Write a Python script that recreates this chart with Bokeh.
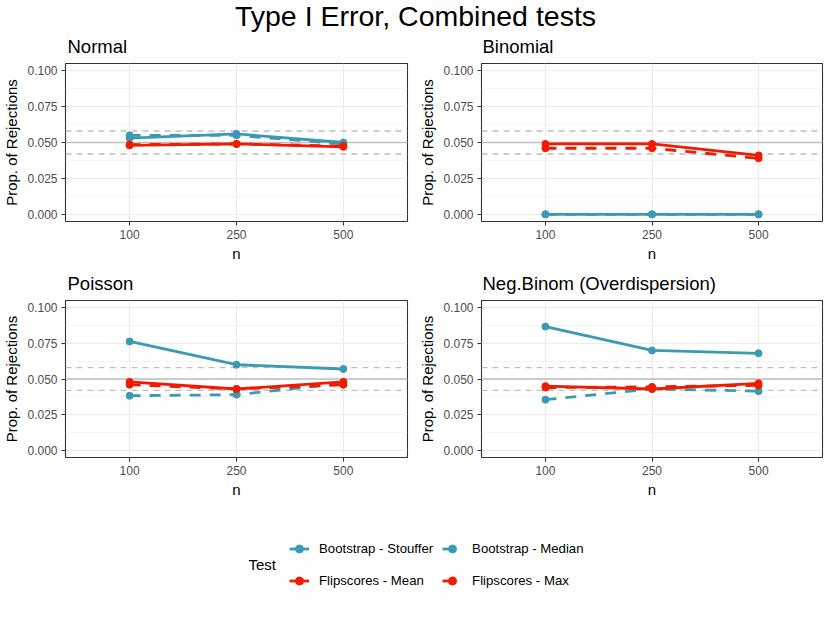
from bokeh.plotting import figure
from bokeh.layouts import column, row
from bokeh.models import (Range1d, FixedTicker, Span, Legend, LegendItem, Label,
                          ColumnDataSource, PrintfTickFormatter)
from bokeh.embed import file_html
from bokeh.resources import INLINE

# ---------------- data ----------------
n_labels = ["100", "250", "500"]
tests = ["Bootstrap - Stouffer", "Bootstrap - Median", "Flipscores - Mean", "Flipscores - Max"]
panel_titles = ["Normal", "Binomial", "Poisson", "Neg.Binom (Overdispersion)"]

normal_stouffer = [0.053, 0.056, 0.050]
normal_median = [0.055, 0.055, 0.049]
normal_mean = [0.048, 0.049, 0.047]
normal_max = [0.0485, 0.049, 0.0475]

binomial_stouffer = [0.0, 0.0, 0.0]
binomial_median = [0.0, 0.0, 0.0]
binomial_mean = [0.049, 0.049, 0.041]
binomial_max = [0.046, 0.046, 0.039]

poisson_stouffer = [0.0763, 0.060, 0.057]
poisson_median = [0.0383, 0.039, 0.047]
poisson_mean = [0.048, 0.043, 0.048]
poisson_max = [0.046, 0.043, 0.046]

negbin_stouffer = [0.0867, 0.070, 0.068]
negbin_median = [0.0355, 0.043, 0.0415]
negbin_mean = [0.045, 0.043, 0.047]
negbin_max = [0.044, 0.0445, 0.0455]

y_ticks = [0.0, 0.025, 0.05, 0.075, 0.1]
y_minor = [0.0125, 0.0375, 0.0625, 0.0875]
ref_solid = 0.05
ref_dashed = [0.042, 0.058]

# ---------------- styles ----------------
BLUE = "#3B9AB2"
RED = "#F21A00"
test_colors = [BLUE, BLUE, RED, RED]
test_dash = ["solid", "11 9", "solid", "11 9"]
FONT = "Liberation Sans"

panel_data = [
    [normal_stouffer, normal_median, normal_mean, normal_max],
    [binomial_stouffer, binomial_median, binomial_mean, binomial_max],
    [poisson_stouffer, poisson_median, poisson_mean, poisson_max],
    [negbin_stouffer, negbin_median, negbin_mean, negbin_max],
]

x_pos = list(range(1, len(n_labels) + 1))


def blank(width, height):
    b = figure(width=width, height=height, output_backend="svg", toolbar_location=None,
               x_axis_type=None, y_axis_type=None, min_border=0,
               x_range=Range1d(100, 101), y_range=Range1d(100, 101))
    b.title = None
    b.outline_line_color = None
    b.grid.visible = False
    return b


def title_strip(text, width, height, x, y):
    s = blank(width, height)
    s.add_layout(Label(x=x, y=y, x_units="screen", y_units="screen", text=text,
                       text_align="left", text_baseline="middle", text_font=FONT,
                       text_font_size="18.5px", text_color="black"))
    return s


def make_panel(series, width, height, mbl, mbr, mbt, mbb):
    p = figure(width=width, height=height, output_backend="svg", toolbar_location=None,
               x_range=Range1d(0.4, len(n_labels) + 0.6), y_range=Range1d(-0.005, 0.105),
               min_border_left=mbl, min_border_right=mbr, min_border_top=mbt,
               min_border_bottom=mbb, background_fill_color="white",
               border_fill_color="white")
    p.title = None
    p.outline_line_color = "#333333"
    p.outline_line_width = 1.1

    p.xaxis.ticker = FixedTicker(ticks=x_pos)
    p.xaxis.major_label_overrides = {x: lab for x, lab in zip(x_pos, n_labels)}
    p.yaxis.ticker = FixedTicker(ticks=y_ticks, minor_ticks=y_minor)
    p.yaxis.formatter = PrintfTickFormatter(format="%.3f")
    p.xaxis.axis_label = "n"
    p.yaxis.axis_label = "Prop. of Rejections"
    for ax in (p.xaxis, p.yaxis):
        ax.axis_line_color = None
        ax.major_tick_line_color = "#333333"
        ax.major_tick_line_width = 1.1
        ax.major_tick_out = 4
        ax.major_tick_in = 0
        ax.minor_tick_line_color = None
        ax.major_label_text_font = FONT
        ax.major_label_text_font_size = "12px"
        ax.major_label_text_color = "#4D4D4D"
        ax.major_label_standoff = 4
        ax.axis_label_text_font = FONT
        ax.axis_label_text_font_size = "15px"
        ax.axis_label_text_font_style = "normal"
        ax.axis_label_text_color = "black"
    p.yaxis.axis_label_standoff = 4
    p.xaxis.axis_label_standoff = 3

    p.xgrid.ticker = FixedTicker(ticks=x_pos)
    p.ygrid.ticker = FixedTicker(ticks=y_ticks, minor_ticks=y_minor)
    p.xgrid.grid_line_color = "#EBEBEB"
    p.ygrid.grid_line_color = "#EBEBEB"
    p.xgrid.grid_line_width = 1.1
    p.ygrid.grid_line_width = 1.1
    p.ygrid.minor_grid_line_color = "#EBEBEB"
    p.ygrid.minor_grid_line_width = 0.6

    p.add_layout(Span(location=ref_solid, dimension="width", line_color="#BEBEBE",
                      line_width=1.4, level="underlay"))
    for lv in ref_dashed:
        p.add_layout(Span(location=lv, dimension="width", line_color="#BEBEBE",
                          line_width=1.4, line_dash="6 5", level="underlay"))

    for vals, col, dash in zip(series, test_colors, test_dash):
        src = ColumnDataSource(dict(x=x_pos, y=vals))
        p.line("x", "y", source=src, line_color=col, line_width=2.8, line_dash=dash)
    for vals, col in zip(series, test_colors):
        src = ColumnDataSource(dict(x=x_pos, y=vals))
        p.scatter("x", "y", source=src, size=7, fill_color=col, line_color=col)
    return p


# panel title strips
s1 = title_strip(panel_titles[0], 415, 27, 67, 13.7)
s2 = title_strip(panel_titles[1], 415, 27, 67, 13.7)
s3 = title_strip(panel_titles[2], 415, 30, 67, 12.5)
s4 = title_strip(panel_titles[3], 415, 30, 67, 12.5)

p1 = make_panel(panel_data[0], 415, 205, 65, 8, 3, 44)
p2 = make_panel(panel_data[1], 415, 205, 66, 8, 3, 44)
p3 = make_panel(panel_data[2], 415, 205, 65, 8, 5, 42)
p4 = make_panel(panel_data[3], 415, 205, 66, 8, 5, 42)

# ---------------- main title ----------------
pt = blank(830, 33)
pt.add_layout(Label(x=415, y=18, x_units="screen", y_units="screen",
                    text="Type I Error, Combined tests", text_align="center",
                    text_baseline="middle", text_font=FONT, text_font_size="28.5px",
                    text_color="black"))

# ---------------- legend ----------------
pl = blank(830, 123)
items = []
for name, col, dash, vals in zip(tests, test_colors, test_dash, panel_data[0]):
    src = ColumnDataSource(dict(x=x_pos, y=vals))
    lr = pl.line("x", "y", source=src, line_color=col, line_width=2.8, line_dash=dash)
    sr = pl.scatter("x", "y", source=src, size=7, fill_color=col, line_color=col)
    items.append(LegendItem(label=name, renderers=[lr, sr]))
legend = Legend(items=items, location=(289, 31), orientation="horizontal", ncols=2,
                glyph_width=20, glyph_height=23, label_standoff=10, spacing=9,
                padding=0, margin=0, border_line_color=None, background_fill_alpha=0,
                label_text_font=FONT, label_text_font_size="13.2px",
                label_text_color="black", label_height=23)
pl.add_layout(legend)
pl.add_layout(Label(x=248, y=59, x_units="screen", y_units="screen", text="Test",
                    text_align="left", text_baseline="middle", text_font=FONT,
                    text_font_size="15px", text_color="black"))

layout = column(pt, row(s1, s2), row(p1, p2), row(s3, s4), row(p3, p4), pl)
open("out.html", "w").write(file_html(layout, INLINE))
